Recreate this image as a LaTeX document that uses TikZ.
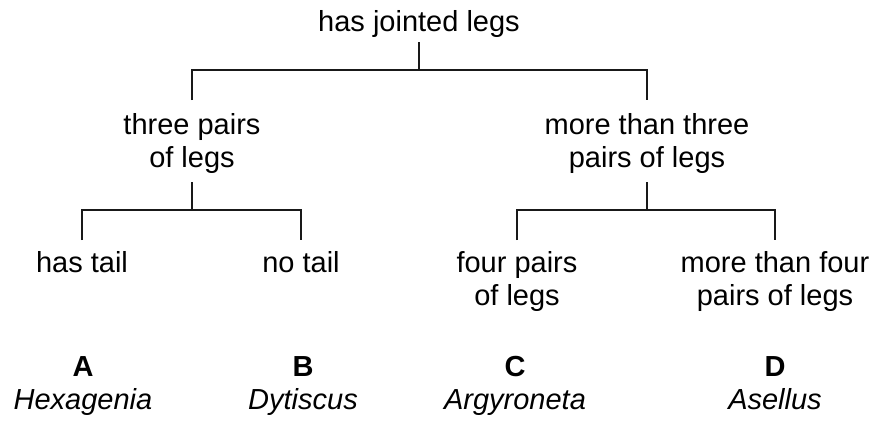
\documentclass[tikz,border=0pt]{standalone}
\usepackage{fontspec}
\setmainfont{Liberation Sans}
\usetikzlibrary{positioning}

\tikzset{
  lbl/.style={font=\fontsize{29}{33}\selectfont, align=center, inner sep=0pt, anchor=north},
  link/.style={line width=1.8pt, draw=black!90},
}

\begin{document}
\begin{tikzpicture}[x=1pt, y=-1pt]
        \useasboundingbox (0,0) rectangle (876,421);

        \node [lbl] (jointed) at (419, 10) {has jointed legs};

        \node [lbl] (three) at (192, 113) {three pairs\\of legs};
        \node [lbl] (more) at (647, 113) {more than three\\pairs of legs};

        \node [lbl] (hastail) at (82, 251) {has tail};
        \node [lbl] (notail) at (301, 251) {no tail};
        \node [lbl] (four) at (517, 251) {four pairs\\of legs};
        \node [lbl] (morefour) at (775, 251) {more than four\\pairs of legs};

        \node [lbl] (spA) at (83, 356) {\textbf{A}\\\textit{Hexagenia}};
        \node [lbl] (spB) at (303, 356) {\textbf{B}\\\textit{Dytiscus}};
        \node [lbl] (spC) at (515, 356) {\textbf{C}\\\textit{Argyroneta}};
        \node [lbl] (spD) at (775, 356) {\textbf{D}\\\textit{Asellus}};

        \coordinate (fork1) at (jointed.south |- 0, 70);
        \coordinate (fork2) at (three.south |- 0, 210);
        \coordinate (fork3) at (more.south |- 0, 210);

        \draw [link] ([yshift=-5pt]jointed.south) -- (fork1);
        \draw [link] ([yshift=13pt]three.north) |- (fork1) -| ([yshift=13pt]more.north);

        \draw [link] ([yshift=-9pt]three.south) -- (fork2);
        \draw [link] ([yshift=11pt]hastail.north) |- (fork2) -| ([yshift=11pt]notail.north);
        \draw [link] ([yshift=-9pt]more.south) -- (fork3);
        \draw [link] ([yshift=11pt]four.north) |- (fork3) -| ([yshift=11pt]morefour.north);
    \end{tikzpicture}
\end{document}
